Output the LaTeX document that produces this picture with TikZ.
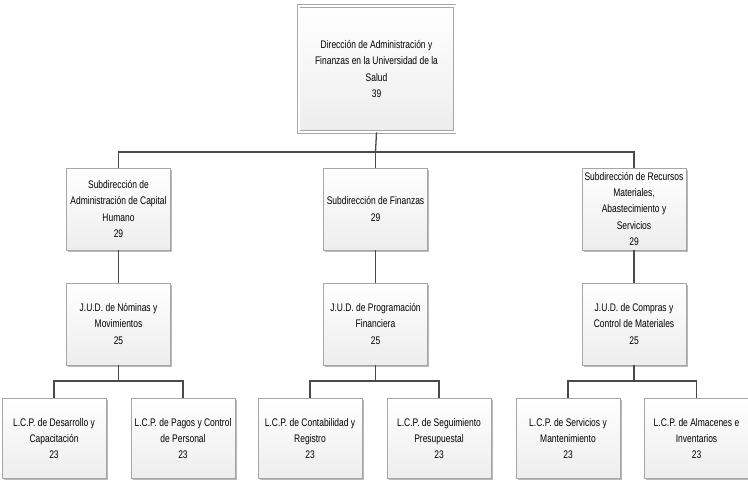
\documentclass[tikz,border=0pt]{standalone}
\usepackage{fontspec}
\setmainfont{Liberation Sans}[FakeStretch=0.77]
\usetikzlibrary{shadows}
\definecolor{boxline}{HTML}{A6A6A6}
\definecolor{boxfill}{HTML}{EDEDED}
\definecolor{linkline}{HTML}{4A4A4A}
\tikzset{
  orgbox/.style={draw=boxline, line width=0.8pt, top color=white, bottom color=boxfill,
    minimum width=104pt, minimum height=82pt, inner sep=1pt,
    align=center, font=\fontsize{11}{16.2}\selectfont,
    drop shadow={shadow xshift=1.6pt, shadow yshift=-1.6pt, fill=black!28, opacity=1}},
  leafbox/.style={orgbox, minimum height=80pt},
  headbox/.style={orgbox, minimum width=156pt, minimum height=126pt,
    double=white, double distance=2pt, line width=0.9pt},
  link/.style={draw=linkline, line width=1.3pt}
}
\begin{document}
\begin{tikzpicture}[x=1pt, y=-1pt]
\useasboundingbox (0,0) rectangle (748,481);
\fill[white] (0,0) rectangle (748,481);

% top level
\node[headbox] (dir) at (376.5,69) {Dirección de Administración y\\Finanzas en la Universidad de la\\Salud\\39};

% subdirections
\node[orgbox] (sdA) at (118.5,209) {Subdirección de\\Administración de Capital\\Humano\\29};
\node[orgbox] (sdB) at (375.5,209) {Subdirección de Finanzas\\29};
\node[orgbox] (sdC) at (634,209) {Subdirección de Recursos\\Materiales,\\Abastecimiento y\\Servicios\\29};

% J.U.D. level
\node[orgbox] (jA) at (118.5,324) {J.U.D. de Nóminas y\\Movimientos\\25};
\node[orgbox] (jB) at (375.5,324) {J.U.D. de Programación\\Financiera\\25};
\node[orgbox] (jC) at (634,324) {J.U.D. de Compras y\\Control de Materiales\\25};

% L.C.P. level
\node[leafbox] (l1) at (54,438.5) {L.C.P. de Desarrollo y\\Capacitación\\23};
\node[leafbox] (l2) at (183,438.5) {L.C.P. de Pagos y Control\\de Personal\\23};
\node[leafbox] (l3) at (310,438.5) {L.C.P. de Contabilidad y\\Registro\\23};
\node[leafbox] (l4) at (439,438.5) {L.C.P. de Seguimiento\\Presupuestal\\23};
\node[leafbox] (l5) at (568,438.5) {L.C.P. de Servicios y\\Mantenimiento\\23};
\node[leafbox] (l6) at (696.5,438.5) {L.C.P. de Almacenes e\\Inventarios\\23};

% bus junctions
\coordinate (busTop) at (375.5,152);
\coordinate (busA) at (118.5,381);
\coordinate (busB) at (375.5,381);
\coordinate (busC) at (634,381);

% connectors
\draw[link] (dir.south) -- (busTop);
\draw[link] (sdA.north) |- (busTop) -| (sdC.north);
\draw[link] (busTop) -- (sdB.north);

\draw[link] (sdA.south) -- (jA.north);
\draw[link] (sdB.south) -- (jB.north);
\draw[link] (sdC.south) -- (jC.north);

\draw[link] (jA.south) -- (busA);
\draw[link] (l1.north) |- (busA) -| (l2.north);
\draw[link] (jB.south) -- (busB);
\draw[link] (l3.north) |- (busB) -| (l4.north);
\draw[link] (jC.south) -- (busC);
\draw[link] (l5.north) |- (busC) -| (l6.north);
\end{tikzpicture}
\end{document}
